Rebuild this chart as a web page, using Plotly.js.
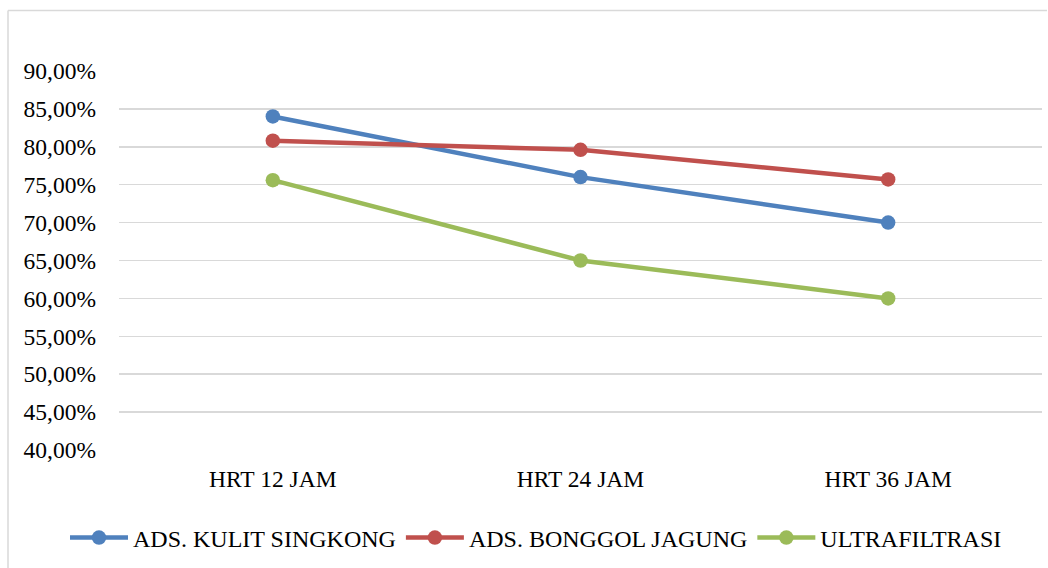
<!DOCTYPE html>
<html>
<head>
<meta charset="utf-8">
<script src="https://cdn.plot.ly/plotly-3.0.1.min.js"></script>
<style>
  html, body { margin: 0; padding: 0; background: #ffffff; }
  #chart { width: 1048px; height: 568px; }
</style>
</head>
<body>
<div id="chart"></div>
<script>
// Retention time categories
const categories = ['HRT 12 JAM', 'HRT 24 JAM', 'HRT 36 JAM'];

// Removal efficiency (fraction) per treatment
const kulitSingkong = [0.840, 0.760, 0.700];
const bonggolJagung = [0.808, 0.796, 0.757];
const ultrafiltrasi = [0.756, 0.650, 0.600];

const seriesNames = ['ADS. KULIT SINGKONG', 'ADS. BONGGOL JAGUNG', 'ULTRAFILTRASI'];
const seriesColors = ['#4F81BD', '#C0504D', '#9BBB59'];

// Y tick values and their comma-decimal labels
const yTicks = [0.40, 0.45, 0.50, 0.55, 0.60, 0.65, 0.70, 0.75, 0.80, 0.85, 0.90];
const yTickLabels = ['40,00%', '45,00%', '50,00%', '55,00%', '60,00%', '65,00%',
                     '70,00%', '75,00%', '80,00%', '85,00%', '90,00%'];

const allValues = [kulitSingkong, bonggolJagung, ultrafiltrasi];

const traces = allValues.map((vals, i) => ({
  type: 'scatter',
  mode: 'lines+markers',
  x: categories,
  y: vals,
  name: seriesNames[i],
  line: { color: seriesColors[i], width: 4.5 },
  marker: { color: seriesColors[i], size: 14.5 },
  hoverinfo: 'skip'
}));

const W = 1048, H = 568;
const margin = { l: 119, r: 6, t: 71, b: 118 };
const pw = W - margin.l - margin.r;
const ph = H - margin.t - margin.b;
// convert pixel positions to paper coordinates for the legend and outer frame
const px = v => (v - margin.l) / pw;
const py = v => (H - margin.b - v) / ph;

const family = 'Liberation Serif, Times New Roman, serif';
const tickFont = { family: family, size: 23.5, color: '#000000' };
const legendFont = { family: family, size: 24, color: '#000000' };

const layout = {
  width: W,
  height: H,
  margin: margin,
  paper_bgcolor: '#ffffff',
  plot_bgcolor: '#ffffff',
  font: tickFont,
  showlegend: true,
  hovermode: false,
  xaxis: {
    type: 'category',
    range: [-0.5, 2.5],
    showgrid: false,
    zeroline: false,
    showline: false,
    ticks: '',
    ticklabelstandoff: 12,
    tickfont: tickFont,
    fixedrange: true,
    automargin: false
  },
  yaxis: {
    range: [0.40, 0.90],
    tickvals: yTicks,
    ticktext: yTickLabels,
    showgrid: true,
    gridcolor: '#D9D9D9',
    gridwidth: 1.5,
    zeroline: false,
    showline: false,
    ticks: '',
    ticklabelstandoff: 22,
    tickfont: tickFont,
    fixedrange: true,
    automargin: false
  },
  legend: {
    orientation: 'h',
    // anchored left inside the left margin so the row may use the full width
    x: px(65),
    xanchor: 'left',
    y: py(538),
    yanchor: 'middle',
    font: legendFont,
    itemwidth: 58,
    tracegroupgap: 0,
    bgcolor: 'rgba(0,0,0,0)'
  },
  shapes: [
    // outer chart frame (top and left edges)
    { type: 'line', xref: 'paper', yref: 'paper',
      x0: px(8), x1: px(1047), y0: py(10.5), y1: py(10.5),
      line: { color: '#D9D9D9', width: 1.5 } },
    { type: 'line', xref: 'paper', yref: 'paper',
      x0: px(8), x1: px(8), y0: py(10.5), y1: py(568),
      line: { color: '#D9D9D9', width: 1.5 } }
  ]
};

Plotly.newPlot('chart', traces, layout, { staticPlot: true, displayModeBar: false });
</script>
</body>
</html>
